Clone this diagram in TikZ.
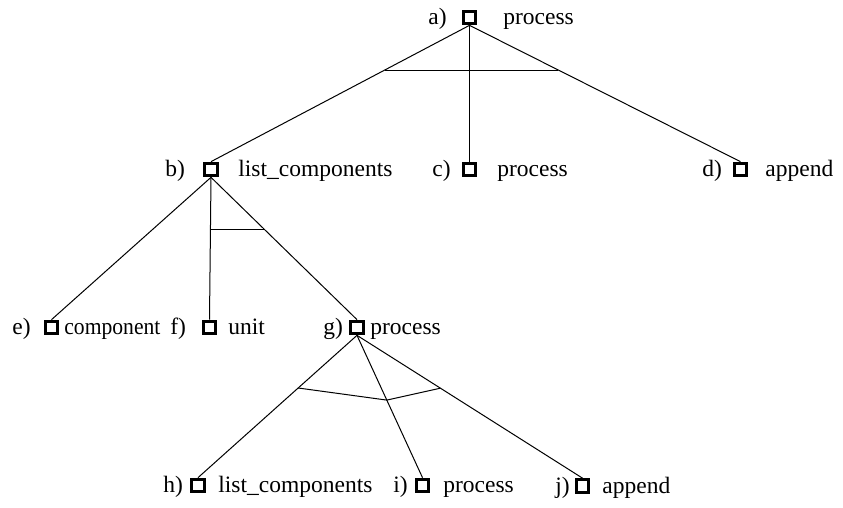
\documentclass[tikz,border=0pt]{standalone}
\usepackage{fontspec}
\setmainfont{Liberation Serif}
\usetikzlibrary{calc}
\begin{document}
\begin{tikzpicture}[x=0.5pt,y=-0.5pt,
  box/.style={draw,line width=1.45pt,minimum size=6.4pt,inner sep=0pt},
  lbl/.style={anchor=base west,inner sep=0pt,font=\fontsize{11.75}{14}\selectfont},
  edge/.style={line width=0.5pt}]
\useasboundingbox (0,0) rectangle (843,508);
% boxes
\node[box] (a) at (469.5,17.5) {};
\node[box] (b) at (211,169.5) {};
\node[box] (c) at (469.5,169.5) {};
\node[box] (d) at (740.5,169.5) {};
\node[box] (e) at (51.5,327.5) {};
\node[box] (f) at (209.5,327.5) {};
\node[box] (g) at (357,327.5) {};
\node[box] (h) at (198,485.5) {};
\node[box] (i) at (422.5,485.5) {};
\node[box] (j) at (582.5,486) {};
% labels
\node[lbl] (al) at (428,25) {a)};
\node[lbl] (an) at (503,25) {process};
\node[lbl] (bl) at (165,177) {b)};
\node[lbl] (bn) at (238,177) {list\_components};
\node[lbl] (cl) at (432,177) {c)};
\node[lbl] (cn) at (497,177) {process};
\node[lbl] (dl) at (702,177) {d)};
\node[lbl] (dn) at (765,177) {append};
\node[lbl] (el) at (12,335) {e)};
\node[lbl] (en) at (64,335) {\scalebox{0.92}[1]{component}};
\node[lbl] (fl) at (170,335) {f)};
\node[lbl] (fn) at (228,335) {unit};
\node[lbl] (gl) at (323,335) {g)};
\node[lbl] (gn) at (370,335) {process};
\node[lbl] (hl) at (163,493) {h)};
\node[lbl] (hn) at (218,493) {list\_components};
\node[lbl] (il) at (393,493) {i)};
\node[lbl] (in) at (443,493) {process};
\node[lbl] (jl) at (555,493.5) {j)};
\node[lbl] (jn) at (602,493.5) {append};
% edges
\draw[edge] (a.south) -- (b.north);
\draw[edge] (a.south) -- (c.north);
\draw[edge] (a.south) -- (d.north);
\draw[edge] (b.south) -- (e.north);
\draw[edge] (b.south) -- (f.north);
\draw[edge] (b.south) -- (g.north);
\draw[edge] (g.south) -- (h.north);
\draw[edge] (g.south) -- (i.north);
\draw[edge] (g.south) -- (j.north);
% crossbars
\coordinate (ab) at ($(a.south)!0.328!(b.north)$);
\coordinate (ad) at ($(a.south)!0.328!(d.north)$);
\draw[edge] (ab) -- (ad);
\coordinate (bf) at ($(b.south)!0.364!(f.north)$);
\coordinate (bg) at ($(b.south)!0.364!(g.north)$);
\draw[edge] (bf) -- (bg);
\coordinate (gh) at ($(g.south)!0.37!(h.north)$);
\coordinate (gi) at ($(g.south)!0.455!(i.north)$);
\coordinate (gj) at ($(g.south)!0.37!(j.north)$);
\draw[edge] (gh) -- (gi) -- (gj);
\end{tikzpicture}
\end{document}
